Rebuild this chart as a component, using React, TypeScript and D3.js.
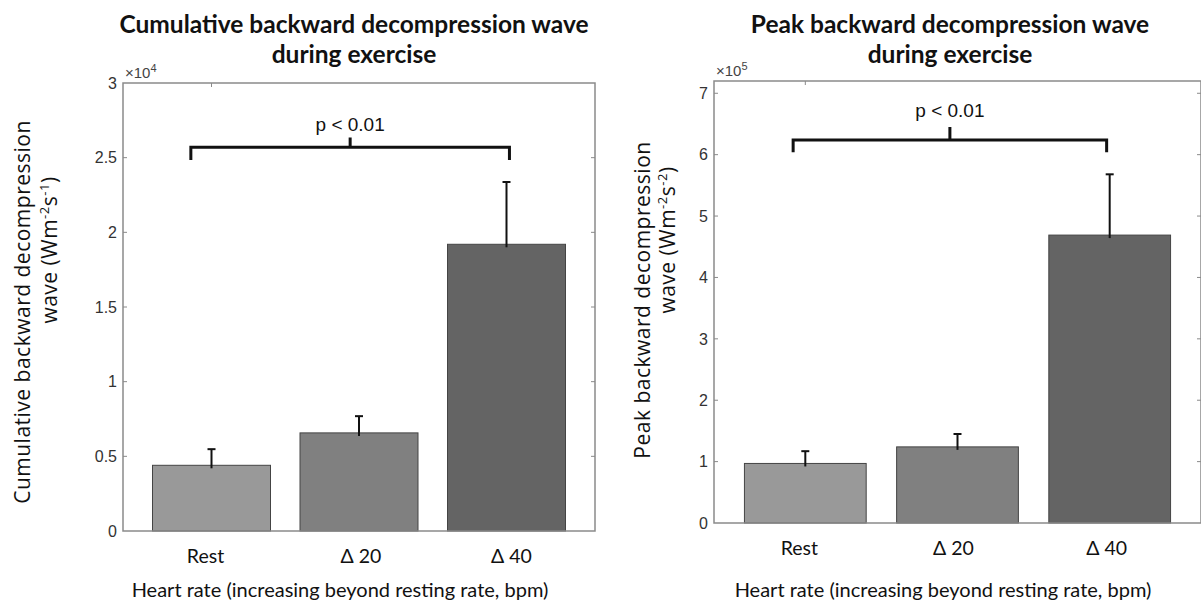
import React from "react";
import * as d3 from "d3";

// Categories along the x axis
const categories = ["Rest", "\u0394 20", "\u0394 40"];

// Cumulative backward decompression wave (W m^-2 s^-1)
const cumulativeMean = [4400, 6570, 19200];
const cumulativeErr = [1080, 1120, 4170];

// Peak backward decompression wave (W m^-2 s^-2)
const peakMean = [97000, 124000, 469000];
const peakErr = [20000, 21000, 99000];

// Y tick values (in units of the axis multiplier)
const cumulativeTicks = [0, 0.5, 1, 1.5, 2, 2.5, 3];
const peakTicks = [0, 1, 2, 3, 4, 5, 6, 7];

const barColors = ["#999999", "#808080", "#646464"];

type PanelProps = {
  title: string[];
  yLabel: string[];
  unitSup: string[];
  means: number[];
  errs: number[];
  exponent: number;
  yMax: number;
  ticks: number[];
  left: number;
  right: number;
  top: number;
  bottom: number;
  bracket: { x0: number; x1: number; y: number; leg: number; tip: number; textY: number };
  labelShift: number[];
  titleX: number;
  yLabelX: number;
  yLabelGap: number;
  yLabelY: number[];
  xLabelX: number;
};

function Panel(p: PanelProps) {
  const scale = Math.pow(10, p.exponent);
  const x = d3.scaleLinear().domain([0.4, 3.6]).range([p.left, p.right]);
  const y = d3.scaleLinear().domain([0, p.yMax]).range([p.bottom, p.top]);
  const barW = x(1.8) - x(1);
  const tickFont = "'Liberation Sans', Arial, sans-serif";
  const calFont = "Lato, 'Open Sans', sans-serif";
  const b = p.bracket;
  const bx0 = x(b.x0);
  const bx1 = x(b.x1);
  const by = y(b.y / scale);
  const byLeg = y(b.leg / scale);
  const byTip = y(b.tip / scale);
  return (
    <g>
      {/* title */}
      <text x={p.titleX} y={33} textAnchor="middle" fontFamily={calFont} fontWeight="bold" fontSize={24.5} fill="#111">
        <tspan x={p.titleX} dy={0}>{p.title[0]}</tspan>
        <tspan x={p.titleX} dy={30}>{p.title[1]}</tspan>
      </text>

      {/* bars */}
      {p.means.map((m, i) => (
        <rect
          key={"bar" + i}
          x={x(i + 1) - barW / 2}
          y={y(m / scale)}
          width={barW}
          height={y(0) - y(m / scale)}
          fill={barColors[i]}
          stroke="#444"
          strokeWidth={1}
        />
      ))}

      {/* error bars */}
      {p.means.map((m, i) => {
        const cx = x(i + 1);
        const yTop = y((m + p.errs[i]) / scale);
        return (
          <g key={"err" + i} stroke="#111" strokeWidth={2}>
            <line x1={cx} x2={cx} y1={y(m / scale) + 3} y2={yTop} />
            <line x1={cx - 4} x2={cx + 4} y1={yTop} y2={yTop} />
          </g>
        );
      })}

      {/* axes box */}
      <rect
        x={p.left}
        y={p.top}
        width={p.right - p.left}
        height={p.bottom - p.top}
        fill="none"
        stroke="#8a8a8a"
        strokeWidth={1.5}
      />

      {/* y ticks */}
      {p.ticks.map((t) => (
        <g key={"t" + t}>
          {t > 0 && t < p.yMax && (
            <>
              <line x1={p.left} x2={p.left + 4} y1={y(t)} y2={y(t)} stroke="#8a8a8a" strokeWidth={1} />
              <line x1={p.right - 4} x2={p.right} y1={y(t)} y2={y(t)} stroke="#8a8a8a" strokeWidth={1} />
            </>
          )}
          <text
            x={p.left - 6}
            y={y(t)}
            dy="0.36em"
            textAnchor="end"
            fontFamily={tickFont}
            fontSize={16}
            fill="#333"
          >
            {String(t)}
          </text>
        </g>
      ))}

      {/* top tick at first category */}
      <line x1={x(1)} x2={x(1)} y1={p.top} y2={p.top + 4} stroke="#8a8a8a" strokeWidth={1} />

      {/* axis multiplier */}
      <text x={p.left + 2} y={p.top - 5} fontFamily={tickFont} fontSize={15} fill="#444">
        {"\u00d710"}
        <tspan dy={-6} fontSize={11}>{String(p.exponent)}</tspan>
      </text>

      {/* category labels */}
      {categories.map((c, i) => (
        <text
          key={"c" + i}
          x={x(i + 1) + p.labelShift[i]}
          y={p.bottom + 32}
          textAnchor="middle"
          fontFamily={calFont}
          fontSize={19.5}
          fill="#111"
        >
          {c}
        </text>
      ))}

      {/* x axis title */}
      <text x={p.xLabelX} y={597} textAnchor="middle" fontFamily={calFont} fontSize={20} fill="#111">
        Heart rate (increasing beyond resting rate, bpm)
      </text>

      {/* y axis title */}
      <g transform={`translate(${p.yLabelX},0) rotate(-90)`}>
        <text
          x={-p.yLabelY[0]}
          y={0}
          textAnchor="middle"
          fontFamily="'Open Sans', sans-serif"
          fontSize={21}
          letterSpacing={0.5}
          fill="#111"
        >
          {p.yLabel[0]}
        </text>
        <text
          x={-p.yLabelY[1]}
          y={p.yLabelGap}
          textAnchor="middle"
          fontFamily="'Open Sans', sans-serif"
          fontSize={21}
          letterSpacing={0.5}
          fill="#111"
        >
          {p.yLabel[1]}
          <tspan dy={-8} fontSize={13}>{p.unitSup[0]}</tspan>
          <tspan dy={8}>s</tspan>
          <tspan dy={-8} fontSize={13}>{p.unitSup[1]}</tspan>
          <tspan dy={8}>)</tspan>
        </text>
      </g>

      {/* significance bracket */}
      <path
        d={`M${bx0},${byLeg}V${by}H${bx1}V${byLeg}M${(bx0 + bx1) / 2},${by}V${byTip}`}
        fill="none"
        stroke="#111"
        strokeWidth={3}
      />
      <text
        x={(bx0 + bx1) / 2}
        y={y(b.textY / scale)}
        textAnchor="middle"
        fontFamily={tickFont}
        fontSize={19}
        fill="#111"
      >
        p &lt; 0.01
      </text>
    </g>
  );
}

export default function App() {
  return (
    <svg width={1201} height={609} style={{ position: "absolute", left: 0, top: 0, background: "#fff" }}>
      <rect x={0} y={0} width={1201} height={609} fill="#fff" />
      <Panel
        title={["Cumulative backward decompression wave", "during exercise"]}
        yLabel={["Cumulative backward decompression", "wave (Wm"]}
        unitSup={["-2", "-1"]}
        means={cumulativeMean}
        errs={cumulativeErr}
        exponent={4}
        yMax={3}
        ticks={cumulativeTicks}
        left={123}
        right={595}
        top={83}
        bottom={531}
        bracket={{ x0: 0.86, x1: 3.02, y: 25700, leg: 24850, tip: 26350, textY: 26800 }}
        labelShift={[-6, 2, 5]}
        titleX={354}
        yLabelX={30}
        yLabelGap={27}
        yLabelY={[312, 250]}
        xLabelX={340}
      />
      <Panel
        title={["Peak backward decompression wave", "during exercise"]}
        yLabel={["Peak backward decompression", "wave (Wm"]}
        unitSup={["-2", "-2"]}
        means={peakMean}
        errs={peakErr}
        exponent={5}
        yMax={7.2}
        ticks={peakTicks}
        left={714}
        right={1201}
        top={81}
        bottom={523}
        bracket={{ x0: 0.92, x1: 2.98, y: 624000, leg: 604000, tip: 645000, textY: 661000 }}
        labelShift={[-6, -4, -3]}
        titleX={950}
        yLabelX={650}
        yLabelGap={25}
        yLabelY={[300, 240]}
        xLabelX={943}
      />
    </svg>
  );
}
